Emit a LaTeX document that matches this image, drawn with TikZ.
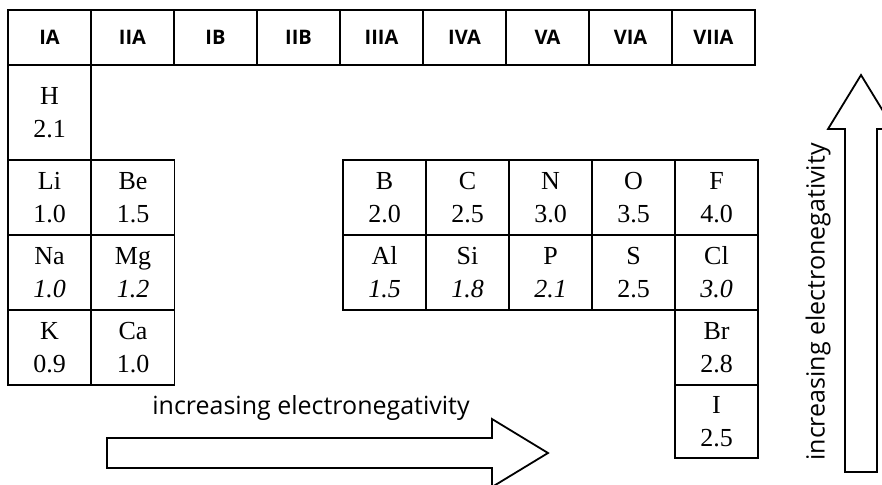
\documentclass[tikz,border=0pt]{standalone}
\usepackage{fontspec}
\setmainfont{Liberation Serif}
\newfontfamily\hdrfont{Open Sans}
\begin{document}
\begin{tikzpicture}[x=1pt,y=-1pt,
  cell/.style={draw, line width=1.6pt, minimum width=83pt, minimum height=75pt,
    inner sep=0pt, align=center, font=\fontsize{26}{33}\selectfont},
  hdr/.style={draw, line width=1.6pt, minimum width=83pt, minimum height=55pt,
    inner sep=0pt, font=\hdrfont\bfseries\fontsize{20}{22}\selectfont},
  blockarrow/.style={draw, line width=1.8pt, line join=miter, fill=white},
  arrowlabel/.style={font=\hdrfont\fontsize{25}{27}\selectfont, inner sep=0pt}]
\clip (0,0) rectangle (882,484);
\fill[white] (0,0) rectangle (882,484);
% header row
\foreach \lab [count=\i from 0] in {IA,IIA,IB,IIB,IIIA,IVA,VA,VIA,VIIA}
  \node[hdr] (g\i) at ({49.5+83*\i},37.5) {\lab};
% group IA / IIA
\node[cell, minimum height=95pt] (H) at (49.5,112.5) {H\\2.1};
\node[cell] (Li) at (49.5,197.5) {Li\\1.0};
\node[cell] (Be) at (133,197.5) {Be\\1.5};
\node[cell] (Na) at (49.5,272.5) {Na\\\textit{1.0}};
\node[cell] (Mg) at (133,272.5) {Mg\\\textit{1.2}};
\node[cell] (K) at (49.5,347.5) {K\\0.9};
\node[cell] (Ca) at (133,347.5) {Ca\\1.0};
% p block
\node[cell] (B) at (384.5,197.5) {B\\2.0};
\node[cell] (C) at (467.5,197.5) {C\\2.5};
\node[cell] (N) at (550.5,197.5) {N\\3.0};
\node[cell] (O) at (633.5,197.5) {O\\3.5};
\node[cell] (F) at (716.5,197.5) {F\\4.0};
\node[cell] (Al) at (384.5,272.5) {Al\\\textit{1.5}};
\node[cell] (Si) at (467.5,272.5) {Si\\\textit{1.8}};
\node[cell] (P) at (550.5,272.5) {P\\\textit{2.1}};
\node[cell] (S) at (633.5,272.5) {S\\2.5};
\node[cell] (Cl) at (716.5,272.5) {Cl\\\textit{3.0}};
\node[cell] (Br) at (716.5,347.5) {Br\\2.8};
\node[cell, minimum height=73pt] (I) at (716.5,421.5) {I\\2.5};
% horizontal arrow
\node[arrowlabel] (hlab) at (311,408) {increasing electronegativity};
\draw[blockarrow] (107,438) -- (492,438) -- (492,419) -- (548,453) -- (492,487)
  -- (492,468) -- (107,468) -- cycle;
% vertical arrow
\node[arrowlabel, rotate=90] (vlab) at (818,302) {increasing electronegativity};
\draw[blockarrow] (845,472) -- (845,129) -- (828,129) -- (861,75) -- (894,129)
  -- (877,129) -- (877,472) -- cycle;
\end{tikzpicture}
\end{document}
